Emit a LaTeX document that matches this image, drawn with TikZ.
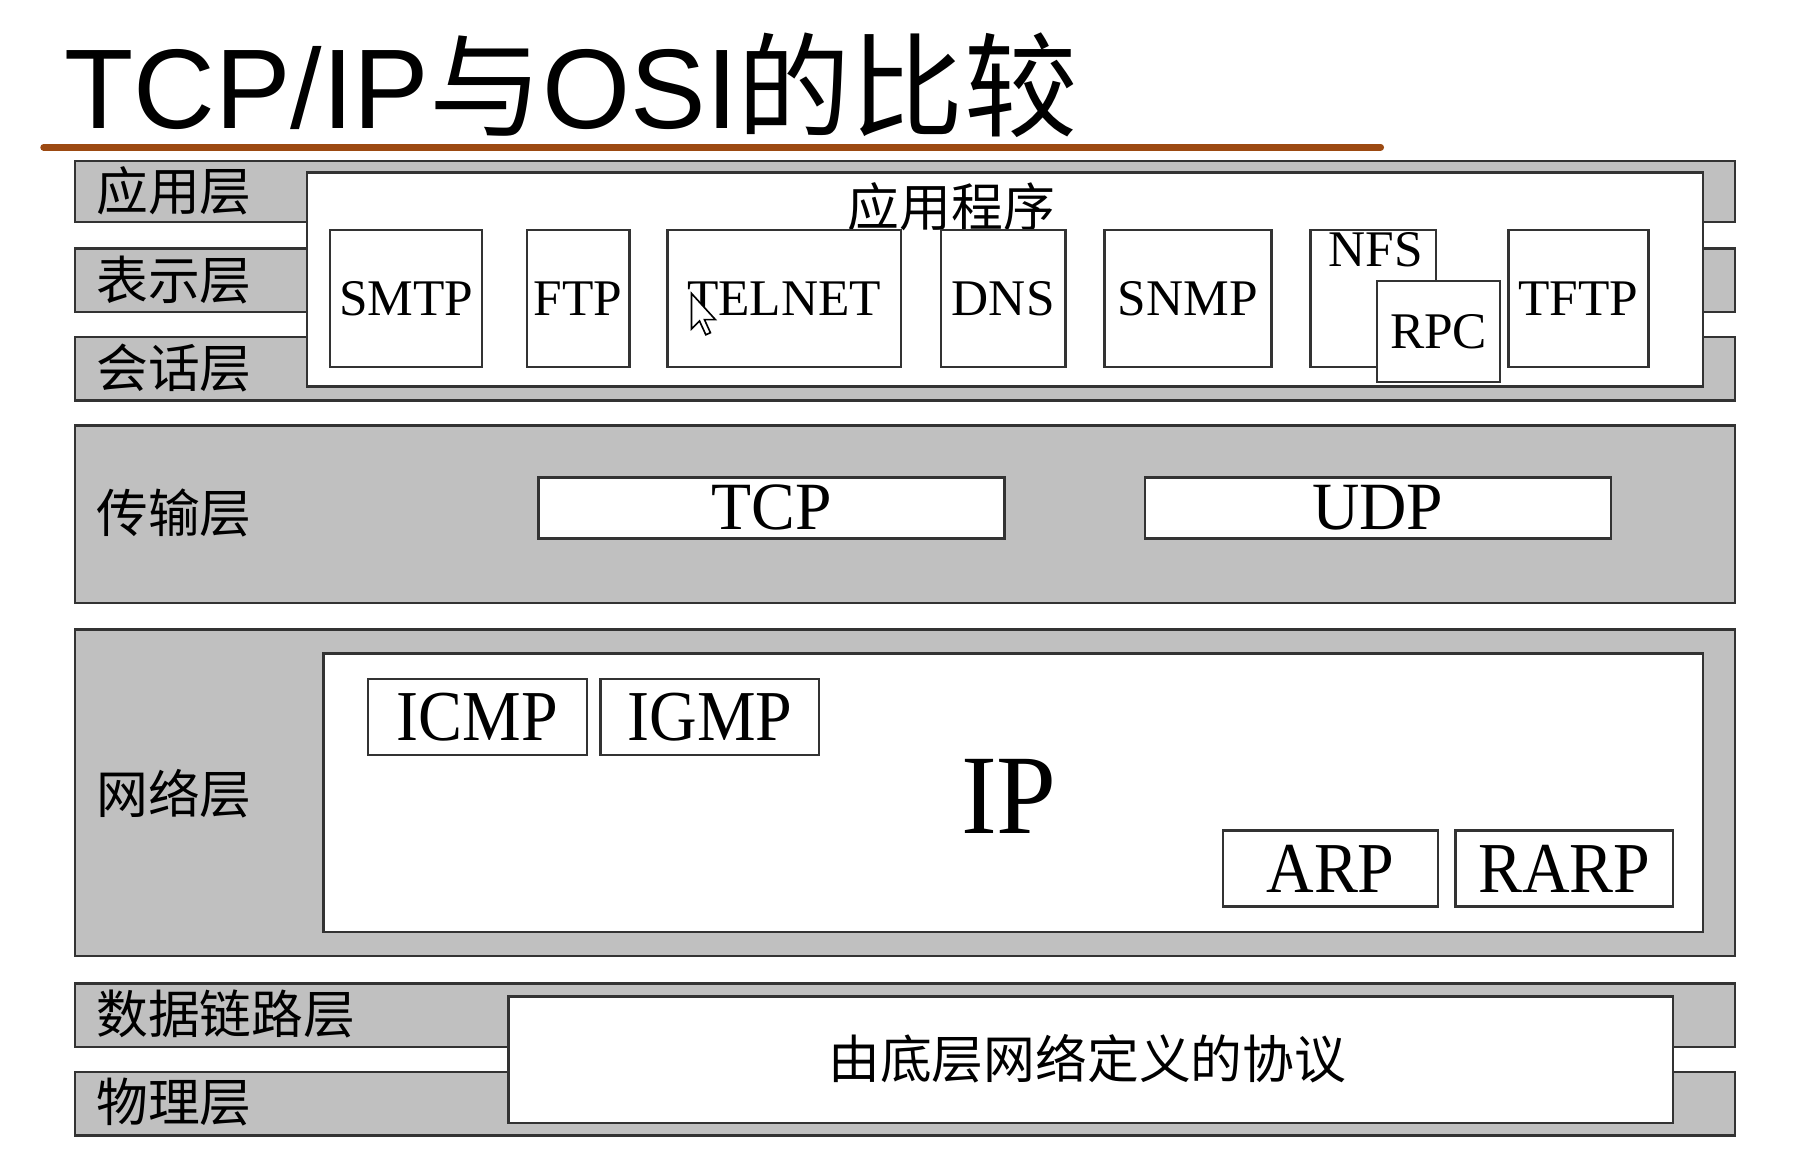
\documentclass[tikz,border=0pt]{standalone}
\usepackage{fontspec}
\setmainfont{Liberation Serif}
\newfontfamily\cjk{Noto Sans CJK SC}
\newfontfamily\arialf{Liberation Sans}
\definecolor{layergray}{HTML}{C0C0C0}
\definecolor{edgec}{HTML}{333333}
\definecolor{rulec}{HTML}{9C4A12}
\newcommand\bx[7]{\node[#6, minimum width={(#4-#2)*0.01cm}, minimum height={(#5-#3)*0.01cm}] (#1) at ({(#2+#4)/2},{(#3+#5)/2}) {#7};}
\newcommand\sqz[2]{\scalebox{#1}[1]{#2}}
\begin{document}
\begin{tikzpicture}[x=0.01cm,y=-0.01cm,
  layer/.style={draw=edgec, fill=layergray, line width=0.6pt, inner sep=0pt, outer sep=0pt},
  wbox/.style={draw=edgec, fill=white, line width=0.6pt, inner sep=0pt, outer sep=0pt},
  app/.style={wbox, font=\fontsize{12.7}{14}\selectfont},
  proto/.style={wbox, font=\fontsize{17.7}{19}\selectfont},
  lab/.style={inner sep=0pt, font=\cjk\fontsize{12.8}{14}\selectfont},
  cursorshape/.style={draw=black, fill=white, line width=0.4pt, line join=miter}]
\useasboundingbox (0,0) rectangle (1568,1006.5);
% title
\node[anchor=base west, inner sep=0pt] (title) at (55,112)
  {\fontsize{28}{30}\selectfont\arialf TCP/IP\cjk 与\arialf OSI\cjk 的比较};
\coordinate (r1) at (38,128);
\coordinate (r2) at (1200,128);
\draw[rulec, line width=1.7pt, line cap=round] (r1) -- (r2);
% OSI layers
\bx{L1}{65}{140}{1508}{193}{layer}{}
\bx{L2}{65}{216}{1508}{271}{layer}{}
\bx{L3}{65}{293}{1508}{348}{layer}{}
\bx{L4}{65}{370}{1508}{524}{layer}{}
\bx{L5}{65}{547}{1508}{831}{layer}{}
\bx{L6}{65}{855}{1508}{910}{layer}{}
\bx{L7}{65}{932}{1508}{987}{layer}{}
\node[lab, anchor=west] (t1) at (83,166) {应用层};
\node[lab, anchor=west] (t2) at (83,243) {表示层};
\node[lab, anchor=west] (t3) at (83,320) {会话层};
\node[lab, anchor=west] (t4) at (83,446) {传输层};
\node[lab, anchor=west] (t5) at (83,690) {网络层};
\node[lab, anchor=west] (t6) at (83,881) {数据链路层};
\node[lab, anchor=west] (t7) at (83,958) {物理层};
% application
\bx{appl}{267}{150}{1480}{336}{wbox}{}
\node[lab] (applt) at (827,180) {应用程序};
\bx{smtp}{287}{200}{419}{319}{app}{SMTP}
\bx{ftp}{458}{200}{547}{319}{app}{FTP}
\bx{telnet}{580}{200}{783}{319}{app}{TELNET}
\bx{dns}{818}{200}{926}{319}{app}{DNS}
\bx{snmp}{960}{200}{1105}{319}{app}{SNMP}
\bx{nfs}{1139}{200}{1248}{319}{app}{}
\node[inner sep=0pt, font=\fontsize{12.7}{14}\selectfont] (nfst) at (1196,217) {NFS};
\bx{rpc}{1197}{244}{1304}{332}{app}{RPC}
\bx{tftp}{1311}{200}{1433}{319}{app}{TFTP}
% cursor
\draw[cursorshape] (601,255) -- ++(0,31) -- ++(7,-7) -- ++(5.5,12) -- ++(4,-1.8) -- ++(-5.2,-11.4) -- ++(9.5,0) -- cycle;
% transport
\bx{tcp}{468}{415}{873}{468}{wbox, font=\fontsize{16.7}{18}\selectfont}{\sqz{0.97}{TCP}}
\bx{udp}{995}{415}{1400}{468}{wbox, font=\fontsize{16.7}{18}\selectfont}{\sqz{0.97}{UDP}}
% network
\bx{net}{281}{568}{1480}{810}{wbox}{}
\bx{icmp}{320}{590}{510}{656}{proto}{\sqz{0.92}{ICMP}}
\bx{igmp}{522}{590}{712}{656}{proto}{\sqz{0.92}{IGMP}}
\node[inner sep=0pt, font=\fontsize{28}{30}\selectfont] (ip) at (877,692) {\sqz{0.95}{IP}};
\bx{arp}{1063}{722}{1250}{788}{proto}{\sqz{0.92}{ARP}}
\bx{rarp}{1265}{722}{1454}{788}{proto}{\sqz{0.92}{RARP}}
% data link + physical
\bx{phys}{442}{866}{1454}{976}{wbox}{}
\node[lab] (physt) at (945,920) {由底层网络定义的协议};
\end{tikzpicture}
\end{document}
